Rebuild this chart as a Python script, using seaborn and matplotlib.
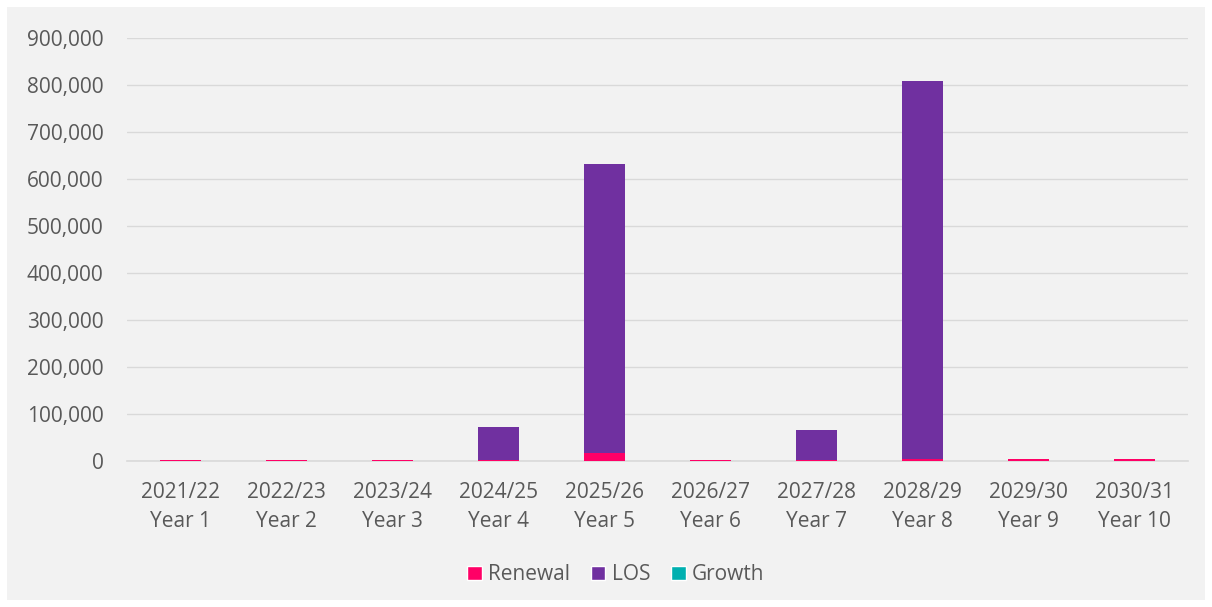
import pandas as pd
import numpy as np
import matplotlib.pyplot as plt
import seaborn as sns
from matplotlib.patches import Rectangle, Patch
from matplotlib.ticker import FuncFormatter

# values
periods = ['2021/22', '2022/23', '2023/24', '2024/25', '2025/26',
           '2026/27', '2027/28', '2028/29', '2029/30', '2030/31']
years = ['Year 1', 'Year 2', 'Year 3', 'Year 4', 'Year 5',
         'Year 6', 'Year 7', 'Year 8', 'Year 9', 'Year 10']
renewal = [2000, 2500, 2500, 2000, 16000, 2500, 2000, 3500, 4500, 4500]
los = [0, 0, 0, 70000, 615000, 0, 64000, 805000, 0, 0]
growth = [0, 0, 0, 0, 0, 0, 0, 0, 0, 0]

labels = [p + '\n' + y for p, y in zip(periods, years)]
df = pd.DataFrame({'label': labels, 'Renewal': renewal, 'LOS': los, 'Growth': growth})
df['los_top'] = df['Renewal'] + df['LOS']
df['growth_top'] = df['los_top'] + df['Growth']

colors = {'Renewal': '#FF0066', 'LOS': '#7030A0', 'Growth': '#00B0B0'}
bg = '#F2F2F2'
txt = '#595959'

sns.set_style('white')
plt.rcParams['font.family'] = ['Open Sans', 'DejaVu Sans']

fig = plt.figure(figsize=(12.12, 6.07), dpi=100, facecolor='white')
fig.patches.append(Rectangle((7 / 1212, 7 / 607), 1198 / 1212, 593 / 607,
                             transform=fig.transFigure, facecolor=bg,
                             edgecolor='none', zorder=-10))
ax = fig.add_axes([0.105, 0.2405, 0.875, 0.697])
ax.set_zorder(1)
ax.set_facecolor(bg)

# stacked bars: draw cumulative totals back to front
for col, key in [('growth_top', 'Growth'), ('los_top', 'LOS'), ('Renewal', 'Renewal')]:
    sns.barplot(data=df, x='label', y=col, color=colors[key], width=0.39,
                ax=ax, saturation=1, linewidth=0, zorder=3)

ax.set_ylim(0, 900000)
ax.set_yticks(np.arange(0, 900001, 100000))
ax.yaxis.set_major_formatter(FuncFormatter(lambda v, p: f'{int(v):,}'))
ax.grid(axis='y', color='#D9D9D9', linewidth=1, zorder=0)
ax.set_axisbelow(True)
for s in ['top', 'right', 'left']:
    ax.spines[s].set_visible(False)
ax.spines['bottom'].set_color('#D9D9D9')
ax.spines['bottom'].set_linewidth(1.2)
ax.tick_params(axis='both', length=0, labelsize=15, colors=txt)
ax.tick_params(axis='x', pad=15)
ax.tick_params(axis='y', pad=17)
for t in ax.get_xticklabels():
    t.set_linespacing(1.5)
ax.set_xlabel('')
ax.set_ylabel('')
ax.set_xlim(-0.5, 9.5)

handles = [Patch(facecolor=colors[k], label=k) for k in ['Renewal', 'LOS', 'Growth']]
fig.legend(handles=handles, loc='center', bbox_to_anchor=(0.508, 0.053), ncol=3,
           frameon=False, fontsize=15, labelcolor=txt, handlelength=0.7,
           handleheight=0.7, handletextpad=0.3, columnspacing=1.0)

fig.savefig('out.png', dpi=100, facecolor='white')
